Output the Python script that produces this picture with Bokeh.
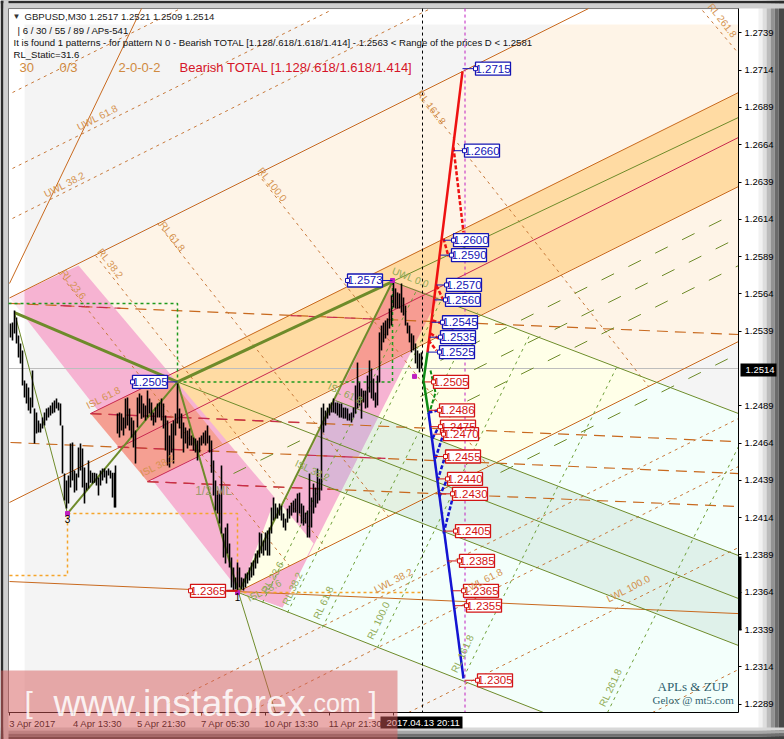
from bokeh.plotting import figure
from bokeh.embed import file_html
from bokeh.resources import INLINE
from bokeh.models import FixedTicker, PrintfTickFormatter, Label, BoxAnnotation, LinearAxis
from bokeh.core.properties import value
import math

# ---- axes ----
price_ticks = [1.2739,1.2714,1.2689,1.2664,1.2639,1.2614,1.2589,1.2564,1.2539,1.2489,1.2464,1.2439,1.2414,1.2389,1.2364,1.2339,1.2314,1.2289]
time_ticks = [9,73,137,201,265,329,393]
time_labels = ["3 Apr 2017","4 Apr 13:30","5 Apr 21:30","7 Apr 05:30","10 Apr 13:30","11 Apr 21:30"]
time_label_bars = [32,97,161,225,291,355]
last_price = 1.2514
chart_top_price, chart_bottom_price = 1.27553, 1.22834

# ---- price bars ----
bar_x = list(range(10,116,2)) + list(range(115,423,2))
bar_high = [1.25442,1.25448,1.25529,1.25482,1.25362,1.25308,1.25261,1.25060,1.25040,1.25013,1.24945,1.25127,1.24872,1.24845,1.24791,1.24771,1.24811,1.24845,1.24872,1.24878,1.24892,1.24912,1.24925,1.24939,1.24912,1.24905,1.24758,1.24436,1.24389,1.24422,1.24637,1.24644,1.24456,1.24436,1.24610,1.24637,1.24604,1.24476,1.24375,1.24523,1.24456,1.24442,1.24442,1.24436,1.24409,1.24456,1.24469,1.24469,1.24456,1.24469,1.24456,1.24442,1.24442,
 1.24489,1.24838,1.24845,1.24838,1.24811,1.24939,1.24945,1.24872,1.24811,1.24791,1.24724,1.24945,1.24972,1.24959,1.24905,1.24892,1.24992,1.24939,1.24912,1.24845,1.24878,1.24905,1.24912,1.24939,1.24905,1.24825,1.24791,1.24691,1.24771,1.24791,1.24838,1.25040,1.24872,1.24838,1.24778,1.24744,1.24724,1.24738,1.24691,1.24677,1.24671,1.24657,1.24677,1.24691,1.24711,1.24724,1.24758,1.24691,1.24657,1.24523,1.24389,1.24322,1.24302,1.24489,1.24034,1.24074,1.24101,1.23967,
 1.23873,1.23806,1.23739,1.23840,1.23806,1.23739,1.23732,1.23766,1.23772,1.23806,1.23840,1.23853,1.23900,1.23920,1.24041,1.24034,1.23987,1.24041,1.24054,1.24074,1.24208,1.24275,1.24235,1.24208,1.24235,1.24221,1.24168,1.24134,1.24201,1.24221,1.24241,1.24255,1.24268,1.24302,1.24308,1.24235,1.24221,1.24174,1.24188,1.24436,1.24275,1.24369,1.24342,1.24469,1.24402,
 1.24878,1.24905,1.24858,1.24878,1.24905,1.24912,1.24939,1.24912,1.24912,1.24905,1.24905,1.24878,1.24878,1.24872,1.24838,1.24845,1.24878,1.25026,1.25180,1.25046,1.25006,1.24992,1.24992,1.25093,1.25194,1.25140,1.25073,1.24979,1.25093,1.25382,1.25428,1.25448,1.25462,1.25476,1.25542,1.25630,1.25730,1.25677,1.25650,1.25643,1.25710,1.25616,1.25562,1.25448,1.25428,1.25375,1.25362,1.25308,1.25261,1.25241,1.25248]
bar_low = [1.25348,1.25328,1.25375,1.25308,1.25214,1.25174,1.25026,1.24945,1.24905,1.24858,1.24838,1.24878,1.24637,1.24704,1.24711,1.24711,1.24738,1.24758,1.24791,1.24811,1.24825,1.24838,1.24845,1.24872,1.24858,1.24758,1.24436,1.24255,1.24201,1.24235,1.24342,1.24389,1.24308,1.24322,1.24409,1.24456,1.24342,1.24235,1.24322,1.24335,1.24375,1.24369,1.24375,1.24355,1.24288,1.24355,1.24389,1.24409,1.24369,1.24422,1.24402,1.24275,1.24208,
 1.24208,1.24704,1.24677,1.24724,1.24691,1.24738,1.24758,1.24724,1.24677,1.24610,1.24503,1.24744,1.24838,1.24804,1.24811,1.24791,1.24811,1.24838,1.24791,1.24758,1.24778,1.24811,1.24811,1.24791,1.24738,1.24590,1.24489,1.24476,1.24577,1.24503,1.24691,1.24771,1.24738,1.24671,1.24577,1.24637,1.24604,1.24624,1.24624,1.24590,1.24577,1.24523,1.24577,1.24624,1.24637,1.24624,1.24637,1.24577,1.24442,1.24288,1.24188,1.24168,1.24101,1.24034,1.23873,1.23833,1.23900,1.23806,
 1.23672,1.23652,1.23659,1.23638,1.23672,1.23659,1.23652,1.23672,1.23699,1.23719,1.23739,1.23752,1.23799,1.23833,1.23873,1.23900,1.23886,1.23920,1.23886,1.23886,1.24034,1.24121,1.24134,1.24134,1.24154,1.24121,1.24074,1.24054,1.24107,1.24134,1.24154,1.24174,1.24174,1.24107,1.24168,1.24101,1.24087,1.24101,1.24007,1.24007,1.24074,1.24168,1.24208,1.24235,1.24255,
 1.24322,1.24711,1.24758,1.24804,1.24825,1.24845,1.24845,1.24838,1.24825,1.24811,1.24811,1.24804,1.24804,1.24791,1.24791,1.24778,1.24811,1.24838,1.24872,1.24892,1.24804,1.24912,1.24872,1.24878,1.24979,1.24939,1.24925,1.24878,1.24892,1.25046,1.25261,1.25315,1.25341,1.25362,1.25408,1.25428,1.25549,1.25542,1.25542,1.25542,1.25515,1.25495,1.25428,1.25375,1.25315,1.25248,1.25261,1.25174,1.25140,1.25114,1.25140]

# ---- filled zones: (bars, prices) ----
chart_bg_bars, chart_bg_prices = [24,738,738,24], [1.27553,1.27553,1.22834,1.22834]
cream_bars, cream_prices = [78,588,738,738,306], [1.25830,1.27553,1.27553,1.25321,1.23873]
yellow_bars, yellow_prices = [392,657,240], [1.25723,1.25053,1.23652]
cyan_bars, cyan_prices = [657,738,738,543,238,240], [1.25053,1.24838,1.22834,1.22834,1.23638,1.23652]
orange_band_bars, orange_band_prices = [167,738,738,222], [1.25093,1.26990,1.26360,1.24637]
strip1_bars, strip1_prices = [9,78,313,282,240], [1.25616,1.25830,1.23967,1.23538,1.23638]
strip2_bars, strip2_prices = [240,392,438,282], [1.23638,1.25723,1.25616,1.23538]
teal_bars, teal_prices = [335,738,738,298], [1.24925,1.23886,1.23283,1.24423]
salmon1_bars, salmon1_prices = [90,167,222,147], [1.24838,1.25093,1.24637,1.24382]
salmon2_bars, salmon2_prices = [344,392,438,412], [1.25046,1.25723,1.25616,1.25274]
violet_bars, violet_prices = [335,378,340,298], [1.24925,1.24818,1.24309,1.24423]
overlap_bars, overlap_prices = [240,275,313,306], [1.23652,1.24275,1.23967,1.23873]

# ---- lines ----
orange_solid_bars = [[9,588],[180,738],[213,738],[9,117],[240,738],[9,141],[9,738]]
orange_solid_prices = [[1.25613,1.27553],[1.25133,1.26990],[1.24600,1.26360],[1.24242,1.24604],[1.23652,1.25321],[1.25710,1.27553],[1.23712,1.23497]]
red_solid_bars = [[117,738],[90,180],[147,213]]
red_solid_prices = [[1.24604,1.26689],[1.24838,1.25133],[1.24382,1.24600]]
long_dash_bars = [[9,738],[90,733],[10,738],[147,738]]
long_dash_prices = [[1.25576,1.25368],[1.24838,1.24651],[1.24644,1.24436],[1.24382,1.24215]]
red_dash_bars = [[60,120],[290,373],[90,300],[117,213],[305,385],[147,330]]
red_dash_prices = [[1.25561,1.25544],[1.25495,1.25472],[1.24838,1.24778],[1.24614,1.24586],[1.24560,1.24537],[1.24382,1.24331]]
thin_dash_bars = [[12,330],[12,430],[12,180],[167,738],[248,738],[408,738],[652,738],
                  [58,289],[95,325],[157,388],[257,488],[418,648],[702,738]]
thin_dash_prices = [[1.26481,1.27540],[1.26146,1.27553],[1.26990,1.27553],[1.22894,1.24805],[1.22834,1.24483],[1.22834,1.23940],[1.22834,1.23122],
                    [1.25784,1.23816],[1.25898,1.23937],[1.26112,1.24148],[1.26447,1.24483],[1.26984,1.25021],[1.27540,1.27252]]
green_long_bars = [[233,300],[440,735],[420,738],[440,738],[500,738]]
green_long_prices = [[1.24436,1.24657],[1.25194,1.26182],[1.24952,1.26018],[1.24832,1.25830],[1.24443,1.25240]]
green_thin_bars = [[392,738],[335,738],[177,738],[298,738],[238,543],[238,275],[392,738],[14,67]]
green_thin_prices = [[1.25723,1.24838],[1.24925,1.23886],[1.25050,1.23598],[1.24423,1.23283],[1.23638,1.22834],[1.23638,1.22834],[1.25723,1.26823],[1.25515,1.24168]]
green_rl_bars = [[607,738],[463,616],[377,530],[322,477],[287,441],[262,416]]
green_rl_prices = [[1.22834,1.24617],[1.23068,1.25147],[1.23270,1.25375],[1.23404,1.25515],[1.23504,1.25603],[1.23571,1.25663]]
thick3_bars = [[14,177],[177,392]]
thick3_prices = [[1.25515,1.25050],[1.25050,1.25723]]
thick2_bars = [[67,177],[177,238],[238,392]]
thick2_prices = [[1.24168,1.25050],[1.25050,1.23638],[1.23638,1.25723]]
green_box_bars = [[8,177,177],[177,392,392]]
green_box_prices = [[1.25576,1.25576,1.25050],[1.25050,1.25050,1.25723]]
orange_box_bars = [[9,67,67,237,237],[237,422]]
orange_box_prices = [[1.23752,1.23752,1.24168,1.24168,1.23638],[1.23638,1.23638]]
pivot_bars, pivot_prices = [67,237,392,414], [1.24168,1.23638,1.25730,1.25087]

# ---- projected patterns ----
proj_red_bars, proj_red_prices = [427,462], [1.25247,1.27131]
proj_red_dash_bars = [[453,463],[443,448],[436,443],[432,442],[430,438],[428,436]]
proj_red_dash_prices = [[1.26622,1.26052],[1.26011,1.25891],[1.25696,1.25596],[1.25462,1.25442],[1.25375,1.25341],[1.25328,1.25261]]
proj_green_bars, proj_green_prices = [427,423,428], [1.25247,1.25060,1.24845]
proj_green_dash_bars, proj_green_dash_prices = [430,435,429], [1.25127,1.24979,1.24845]
proj_blue_bars, proj_blue_prices = [428,463], [1.24845,1.23062]
proj_blue_dash_bars = [[428,437],[432,439],[435,443],[437,444],[439,446],[443,452]]
proj_blue_dash_prices = [[1.24845,1.24858],[1.24671,1.24758],[1.24537,1.24704],[1.24389,1.24537],[1.24282,1.24389],[1.24034,1.24268]]

# ---- price tags ----
blue_tag_values = [1.2715,1.2660,1.2600,1.2590,1.2570,1.2560,1.2545,1.2535,1.2525,1.2573,1.2505]
blue_tag_left = [475,464,453,451,446,445,442,440,439,347,132]
blue_stem_from = [462,453,443,440,436,434,431,429,427,392,177]
red_tag_values = [1.2505,1.2486,1.2475,1.2470,1.2455,1.2440,1.2430,1.2405,1.2385,1.2365,1.2355,1.2305,1.2365]
red_tag_left = [433,439,440,443,445,447,452,455,459,463,466,477,190]
red_stem_from = [424,428,430,433,434,437,439,443,447,452,454,464,237]

# ---- rotated level captions ----
orange_caps = ["UWL 61.8","UWL 38.2","RL 23.6","RL 38.2","RL 61.8","RL 100.0","RL 161.8","RL 261.8","ISL 61.8","ISL 38.2","LWL 38.2","LWL 61.8","LWL 100.0"]
orange_caps_bar = [97,64,73,110,172,272,431,722,103,157,393,483,628]
orange_caps_price = [1.26823,1.26373,1.25703,1.25844,1.26025,1.26373,1.26890,1.27473,1.24945,1.24490,1.23719,1.23719,1.23665]
orange_caps_deg = [27,27,-52,-52,-52,-52,-52,-52,27,27,27,27,27]
green_caps = ["UWL 0.0","RL 23.6","RL 38.2","RL 61.8","RL 100.0","RL 161.8","RL 261.8","ISL 61.8","ISL 38.2","ISL 23.6"]
green_caps_bar = [410,272,292,323,378,462,610,345,312,264]
green_caps_price = [1.25750,1.23740,1.23665,1.23571,1.23451,1.23229,1.23001,1.24972,1.24456,1.23652]
green_caps_deg = [-22,60,65,65,65,65,65,-25,-25,27]

FONT = "Liberation Sans"
# the frame fills the whole picture; the two axes sit at fixed places inside it
p = figure(width=784, height=739, x_range=(0,784), y_range=(1.22653,1.27607),
           toolbar_location=None, output_backend="svg",
           min_border_left=0, min_border_top=0, min_border_right=0, min_border_bottom=0,
           background_fill_color="white", border_fill_color="white", outline_line_color=None)
p.grid.visible = False

p.yaxis[0].visible = False
ax = LinearAxis(fixed_location=738, bounds=(chart_bottom_price, chart_top_price))
p.add_layout(ax, "right")
ax.ticker = FixedTicker(ticks=price_ticks)
ax.formatter = PrintfTickFormatter(format="%.4f")
ax.major_tick_in, ax.major_tick_out, ax.minor_tick_out = 0, 3, 0
ax.major_label_standoff = 3
ax.major_label_text_font, ax.major_label_text_font_size, ax.major_label_text_color = FONT, "9.5px", "black"
ax.axis_line_color = "black"
bx = p.xaxis[0]
bx.fixed_location = chart_bottom_price
bx.bounds = (8, 738)
bx.ticker = FixedTicker(ticks=time_label_bars, minor_ticks=time_ticks)
bx.major_label_overrides = dict(zip(time_label_bars, time_labels))
bx.major_tick_in, bx.major_tick_out, bx.minor_tick_in, bx.minor_tick_out = 0, 0, 0, 3
bx.major_label_standoff = 3
bx.major_label_text_font, bx.major_label_text_font_size, bx.major_label_text_color = FONT, "9.5px", "black"
bx.axis_line_color = "black"

def cbox(l, r, t, b, c, alpha=1, level="underlay"):
    p.add_layout(BoxAnnotation(left=l, right=r, top=t, bottom=b, left_units="canvas", right_units="canvas",
                               top_units="canvas", bottom_units="canvas", fill_color=c, fill_alpha=alpha,
                               line_alpha=0, level=level))

# bevel of the terminal window
for l, r, c in zip([758,762,766,770,774,778],[762,766,770,774,778,784],["#f2f2f2","#dedede","#bcbcbc","#939393","#6c6c6c","#484848"]):
    cbox(l, r, 0, 739, c)
for t, b, c in zip([727,730,733,736],[730,733,736,739],["#d8d8d8","#a8a8a8","#707070","#404040"]):
    cbox(0, 784, t, b, c)
cbox(0, 784, 0, 3, "#2c2c2c")
cbox(0, 784, 3, 8, "#cfcfcf")
cbox(0, 3, 0, 739, "#2c2c2c")
cbox(3, 8, 0, 739, "#cfcfcf")
cbox(8, 738, 8, 712, "white")

p.patch(chart_bg_bars, chart_bg_prices, fill_color="#F4F4F4", line_alpha=0)
p.patch(cream_bars, cream_prices, fill_color="#FEF4E7", line_alpha=0)
p.patch(yellow_bars, yellow_prices, fill_color="#FFFFE8", line_alpha=0)
p.patch(cyan_bars, cyan_prices, fill_color="#F3FFFB", line_alpha=0)
p.patch(orange_band_bars, orange_band_prices, fill_color="#FFDBA3", line_alpha=0)
p.patch(strip1_bars, strip1_prices, fill_color="#F6B3D2", line_alpha=0)
p.patch(strip2_bars, strip2_prices, fill_color="#F6B3D2", line_alpha=0)
p.patch(teal_bars, teal_prices, fill_color="#CDE5DD", fill_alpha=0.55, line_alpha=0)
p.patch(salmon1_bars, salmon1_prices, fill_color="#F59F92", line_alpha=0)
p.patch(salmon2_bars, salmon2_prices, fill_color="#F79C92", line_alpha=0)
p.patch(violet_bars, violet_prices, fill_color="#DAB6D6", line_alpha=0)
p.patch(overlap_bars, overlap_prices, fill_color="#FFFFE8", line_alpha=0)
# pale strips along the top and left of the window
p.quad(left=[8], right=[738], top=[chart_top_price], bottom=[1.27446], fill_color="white", line_alpha=0)
p.quad(left=[8], right=[24], top=[1.27446], bottom=[chart_bottom_price], fill_color="white", fill_alpha=0.7, line_alpha=0)

p.segment([8],[last_price],[738],[last_price], line_color="#BDBDBD", line_width=1)
p.multi_line([[8,738],[8,8]], [[chart_top_price,chart_top_price],[chart_top_price,chart_bottom_price]], line_color="#777777", line_width=1)

OR, GR = "#C8691E", "#6E8B2A"
p.multi_line(orange_solid_bars, orange_solid_prices, line_color=OR, line_width=1)
p.multi_line(red_solid_bars, red_solid_prices, line_color="#C8284F", line_width=1)
p.multi_line(long_dash_bars, long_dash_prices, line_color=OR, line_width=1.2, line_dash="11 7")
p.multi_line(red_dash_bars, red_dash_prices, line_color="#C8284F", line_width=1.2, line_dash="11 7")
p.multi_line(thin_dash_bars, thin_dash_prices, line_color="#C8793A", line_width=1, line_dash="3 4")
p.multi_line(green_long_bars, green_long_prices, line_color=GR, line_width=1, line_dash="14 16")
p.multi_line(green_thin_bars, green_thin_prices, line_color=GR, line_width=1)
p.multi_line(green_rl_bars, green_rl_prices, line_color="#6FA03A", line_width=1, line_dash="3 4")
p.multi_line(green_box_bars, green_box_prices, line_color="#1E9A1E", line_width=1.5, line_dash="3 3")
p.multi_line(orange_box_bars, orange_box_prices, line_color="#F5A52A", line_width=1.5, line_dash="3 3")

p.multi_line(thick3_bars, thick3_prices, line_color=GR, line_width=3)
p.multi_line(thick2_bars, thick2_prices, line_color=GR, line_width=2)

p.segment(bar_x, bar_high, bar_x, bar_low, line_color="black", line_width=1.6)
p.scatter(pivot_bars, pivot_prices, marker="square", size=4, color="#C020C0")

p.segment([422,464.5],[chart_top_price]*2,[422,464.5],[chart_bottom_price]*2, line_color=["black","#C020C0"], line_width=1, line_dash="3 3")

p.line(proj_red_bars, proj_red_prices, line_color="#EE1111", line_width=2.5)
p.multi_line(proj_red_dash_bars, proj_red_dash_prices, line_color="#EE1111", line_width=2.5, line_dash="4 2")
p.line(proj_green_bars, proj_green_prices, line_color="#0E8A14", line_width=2.5)
p.line(proj_green_dash_bars, proj_green_dash_prices, line_color="#0E8A14", line_width=2, line_dash="4 2")
p.line(proj_blue_bars, proj_blue_prices, line_color="#1414D2", line_width=2.5)
p.multi_line(proj_blue_dash_bars, proj_blue_dash_prices, line_color="#1414D2", line_width=2.5, line_dash="4 2")

def tags(values, left, stem, color):
    w = 35
    p.segment(stem, values, left, values, line_color=color, line_width=1)
    p.rect([l + w/2 for l in left], values, width=w, height=13, height_units="screen",
           fill_color="white", line_color=color, line_width=1.3)
    p.scatter(left, values, marker="square", size=4, fill_color="white", line_color=color)
    p.text([l + w/2 for l in left], values, text=[f"{v:.4f}" for v in values], text_color=color,
           text_font=value(FONT), text_font_size="11.5px", text_align="center", text_baseline="middle")

tags(blue_tag_values, blue_tag_left, blue_stem_from, "#1414B4")
tags(red_tag_values, red_tag_left, red_stem_from, "#D21414")
p.segment([226],[1.2365],[237],[1.2365], line_color="#D21414", line_width=2)

p.text(orange_caps_bar, orange_caps_price, text=orange_caps, angle=[math.radians(a) for a in orange_caps_deg],
       text_color="#D4924E", text_font=value(FONT), text_font_size="10px", text_align="center", text_baseline="middle")
p.text(green_caps_bar, green_caps_price, text=green_caps, angle=[math.radians(a) for a in green_caps_deg],
       text_color="#8FAA55", text_font=value(FONT), text_font_size="10px", text_align="center", text_baseline="middle")
p.text([213],[1.24322], text=["1/2 ML"], text_color="#A09A70", text_font=value(FONT), text_font_size="12px",
       text_align="center", text_baseline="middle")
p.text([67,237],[1.24128,1.23605], text=["3","1"], text_color="black", text_font=value(FONT), text_font_size="10px",
       text_align="center", text_baseline="middle")

def write(x, y, s, color="black", size="9.6px", font=FONT):
    p.text([x],[y], text=[s], text_color=color, text_font=value(font), text_font_size=size, text_baseline="middle")

write(12,1.27500,"\u25BC", "#333333","8px")
write(24,1.27500,"GBPUSD,M30  1.2517 1.2521 1.2509 1.2514","#222222")
write(17,1.27406,"| 6 / 30 / 55 / 89 / APs-541","#111111")
write(13,1.27325,"It is found 1 patterns  -  for pattern N 0 - Bearish TOTAL [1.128/.618/1.618/1.414] - 1.2563 < Range of the prices D < 1.2581","#111111")
write(13,1.27245,"RL_Static=31.6","#111111")
write(19,1.27158,"30","#D08A40","13px")
write(59,1.27158,"0/3","#D08A40","13px")
write(118,1.27158,"2-0-0-2","#D08A40","13px")
write(179,1.27158,"Bearish TOTAL [1.128/.618/1.618/1.414]","#D61428","13px")
write(657,1.23011,"APLs & ZUP","#2F5F6F","13px","Liberation Serif")
write(652,1.22918,"Gelox @ mt5.com","#2F5F6F","11px","Liberation Serif")

cbox(738, 741, 556, 630, "black", level="overlay")
cbox(740, 776, 363, 376, "black", level="overlay")
p.add_layout(Label(x=745, y=369.5, x_units="canvas", y_units="canvas", text="1.2514", text_color="white", level="overlay",
                   text_font=FONT, text_font_size="9.5px", text_baseline="middle"))
cbox(380, 462, 716, 728, "black", level="overlay")
p.add_layout(Label(x=386, y=722, x_units="canvas", y_units="canvas", text="2017.04.13 20:11", text_color="white", level="overlay",
                   text_font=FONT, text_font_size="9.5px", text_baseline="middle"))

# watermark
cbox(0, 397, 670, 739, "#D65A5A", alpha=0.5, level="overlay")
for x, s, size in [(24,"[","30px"),(53,"www.instaforex","37.5px"),(306,".com","25px"),(368,"]","30px")]:
    p.add_layout(Label(x=x, y=702, x_units="canvas", y_units="canvas", text=s, text_color="white", text_alpha=0.85,
                       text_font=FONT, text_font_size=size, text_baseline="alphabetic", level="overlay"))

open("out.html", "w").write(file_html(p, INLINE))
